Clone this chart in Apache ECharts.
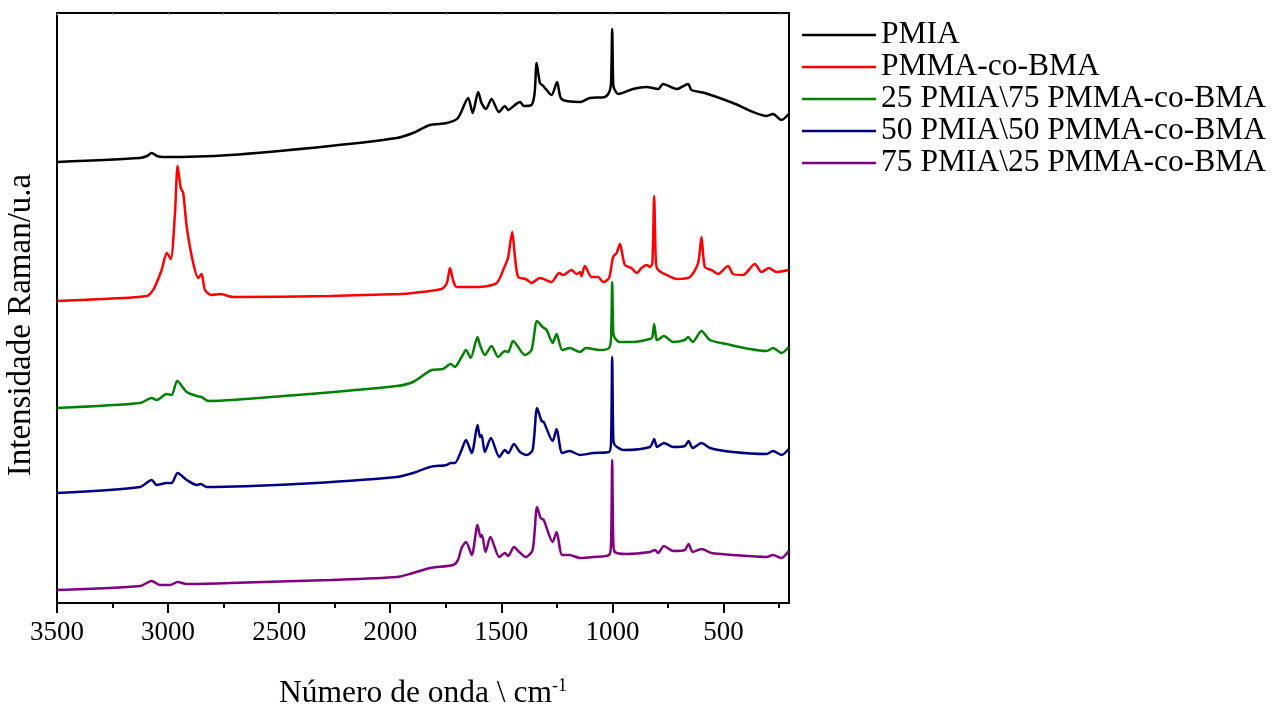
<!DOCTYPE html>
<html>
<head>
<meta charset="utf-8">
<title>Raman</title>
<script src="https://cdn.jsdelivr.net/npm/echarts@6.0.0/dist/echarts.min.js"></script>
<style>
  html, body { margin: 0; padding: 0; background: #fff; }
  #chart { width: 1276px; height: 713px; }
</style>
</head>
<body>
<div id="chart"></div>
<script>
// wavenumber (cm-1), intensity (a.u., offset stacked as in the figure)
const pmia = [[3500,441],[3126,445],[3095,447],[3074,450],[3050,447],[3023,446],[2721,448],[2271,457],[1970,465],[1898,470],[1821,478],[1746,480],[1695,485],[1649,505],[1629,490],[1604,511],[1589,500],[1569,494],[1544,504],[1511,491],[1484,497],[1469,493],[1439,498],[1416,501],[1398,497],[1364,498],[1350,510],[1341,540],[1326,520],[1311,517],[1274,508],[1249,521],[1229,504],[1146,501],[1101,505],[1034,506],[1014,511],[1006,520],[1001,574],[996,518],[989,513],[974,509],[907,514],[846,516],[794,514],[772,519],[711,514],[659,519],[644,513],[584,510],[457,500],[367,491],[306,487],[277,489],[239,483],[206,489]];

const pmmaBma = [[3500,302],[3300,304],[3096,307],[3067,313],[3029,333],[3006,350],[2988,344],[2969,390],[2957,437],[2943,415],[2932,410],[2916,376],[2887,340],[2864,325],[2849,329],[2834,313],[2804,308],[2766,309],[2707,306],[2271,307],[1956,309],[1898,310],[1769,314],[1745,320],[1731,335],[1716,322],[1701,316],[1604,316],[1521,320],[1488,335],[1470,345],[1451,371],[1438,345],[1424,326],[1390,324],[1364,320],[1326,325],[1274,321],[1240,330],[1222,328],[1184,333],[1161,329],[1146,331],[1139,327],[1124,337],[1094,326],[1064,326],[1042,321],[1015,325],[997,346],[981,350],[966,359],[944,338],[914,335],[891,330],[869,335],[846,338],[831,336],[820,340],[812,407],[804,340],[794,333],[756,328],[711,324],[651,326],[614,340],[599,366],[584,336],[554,333],[524,329],[479,337],[457,329],[412,328],[359,339],[329,331],[295,335],[261,331],[206,333]];

const blend25 = [[3500,195],[3126,200],[3074,205],[3051,203],[3006,209],[2984,208],[2959,222],[2916,211],[2871,207],[2849,206],[2819,202],[2421,208],[1971,217],[1897,221],[1814,233],[1762,234],[1728,239],[1709,236],[1679,246],[1659,253],[1638,245],[1607,266],[1596,258],[1574,248],[1544,257],[1514,246],[1484,252],[1469,251],[1447,262],[1394,248],[1364,253],[1339,282],[1314,276],[1296,273],[1269,260],[1251,269],[1226,253],[1192,255],[1146,251],[1119,255],[1056,253],[1015,255],[1006,265],[1001,321],[996,270],[989,265],[966,261],[907,261],[831,264],[820,266],[812,279],[804,266],[799,263],[768,267],[727,261],[674,263],[659,266],[639,261],[599,272],[561,263],[486,259],[381,254],[306,252],[277,255],[239,250],[206,256]];

const blend50 = [[3500,110],[3126,116],[3074,123],[3051,118],[3006,120],[2984,120],[2957,130],[2916,123],[2871,118],[2853,119],[2826,116],[2421,119],[1971,126],[1897,130],[1821,136],[1746,138],[1728,140],[1709,140],[1679,153],[1659,163],[1633,150],[1607,178],[1596,166],[1589,168],[1574,151],[1547,165],[1509,146],[1484,153],[1469,150],[1443,159],[1416,151],[1386,148],[1359,153],[1339,195],[1319,182],[1309,181],[1269,162],[1251,174],[1226,150],[1192,152],[1146,148],[1086,150],[1015,151],[1006,162],[1001,246],[996,165],[989,158],[951,153],[831,156],[812,164],[799,156],[768,160],[727,156],[674,157],[657,162],[639,155],[599,160],[561,155],[457,151],[306,149],[277,152],[239,148],[206,154]];

const blend75 = [[3500,13],[3126,17],[3074,22],[3036,18],[2991,18],[2957,21],[2916,19],[2721,20],[2271,23],[1971,26],[1897,30],[1821,35],[1717,38],[1695,43],[1679,55],[1659,61],[1633,48],[1607,78],[1593,66],[1587,68],[1571,51],[1549,66],[1509,46],[1484,50],[1469,47],[1443,56],[1419,51],[1390,46],[1359,53],[1339,96],[1323,85],[1309,83],[1269,61],[1251,71],[1226,48],[1192,48],[1146,45],[1086,46],[1015,48],[1006,60],[1001,143],[996,62],[989,51],[936,49],[831,51],[808,53],[794,50],[768,57],[727,52],[674,53],[657,59],[639,51],[599,54],[554,50],[457,48],[306,46],[277,48],[239,45],[206,52]];

const seriesNames = ['PMIA', 'PMMA-co-BMA', '25 PMIA\\75 PMMA-co-BMA', '50 PMIA\\50 PMMA-co-BMA', '75 PMIA\\25 PMMA-co-BMA'];
const seriesColors = ['#000000', '#ff0000', '#008000', '#000080', '#800080'];
const majorTicks = [3500, 3000, 2500, 2000, 1500, 1000, 500];
const minorTicks = [3250, 2750, 2250, 1750, 1250, 750, 250];

const X_MIN = 205, X_MAX = 3500;
const serif = '"Liberation Serif", "Times New Roman", serif';

const chart = echarts.init(document.getElementById('chart'), null, { renderer: 'canvas' });

const baseX = {
    type: 'value',
    inverse: true,
    min: X_MIN,
    max: X_MAX,
    gridIndex: 0,
    splitLine: { show: false },
};

chart.setOption({
    animation: false,
    backgroundColor: '#fff',
    textStyle: { fontFamily: serif },
    grid: {
        left: 57, right: 487, top: 13, bottom: 110,
        show: true, borderColor: '#000', borderWidth: 2,
        outerBoundsMode: 'none',
    },
    legend: {
        orient: 'vertical',
        left: 797,
        top: 14,
        itemWidth: 74,
        itemHeight: 10,
        itemGap: 0,
        icon: 'path://M0,4L74,4L74,6.5L0,6.5Z',
        textStyle: { fontFamily: serif, fontSize: 31.5, lineHeight: 30, color: '#000' },
        data: seriesNames,
    },
    xAxis: [
        {
            ...baseX,
            position: 'bottom',
            name: 'Número de onda \\ cm{sup|-1}',
            nameLocation: 'middle',
            nameGap: 74,
            nameMoveOverlap: false,
            nameTextStyle: {
                fontFamily: serif, fontSize: 31.5, color: '#000',
                rich: { sup: { fontFamily: serif, fontSize: 18, verticalAlign: 'top', padding: [0, 0, 16, 0], color: '#000' } },
            },
            axisLine: { show: true, lineStyle: { color: '#000', width: 2 } },
            axisTick: { show: true, inside: false, length: 10, lineStyle: { color: '#000', width: 2 }, customValues: majorTicks },
            axisLabel: {
                show: true, margin: 16, fontFamily: serif, fontSize: 27, color: '#000',
                customValues: majorTicks,
                formatter: (v) => String(v),
            },
        },
        {
            ...baseX,
            position: 'bottom',
            axisLine: { show: false },
            axisTick: { show: true, inside: false, length: 5, lineStyle: { color: '#000', width: 2 }, customValues: minorTicks },
            axisLabel: { show: false },
        },
        {
            ...baseX,
            position: 'top',
            axisLine: { show: false },
            axisTick: { show: true, inside: true, length: 2, lineStyle: { color: '#999', width: 1 }, customValues: majorTicks.concat(minorTicks) },
            axisLabel: { show: false },
        },
    ],
    yAxis: {
        type: 'value',
        min: 0,
        max: 590,
        name: 'Intensidade Raman/u.a',
        nameLocation: 'middle',
        nameGap: 19,
        nameMoveOverlap: false,
        nameTextStyle: { fontFamily: serif, fontSize: 33, color: '#000', padding: [0, 34, 0, 0] },
        axisLine: { show: true, lineStyle: { color: '#000', width: 2 } },
        axisTick: { show: false },
        axisLabel: { show: false },
        splitLine: { show: false },
    },
    series: [pmia, pmmaBma, blend25, blend50, blend75].map((data, i) => ({
        name: seriesNames[i],
        type: 'line',
        xAxisIndex: 0,
        data,
        symbol: 'none',
        smooth: 0.25,
        color: seriesColors[i],
        lineStyle: { color: seriesColors[i], width: 2.5 },
    })),
});
</script>
</body>
</html>
